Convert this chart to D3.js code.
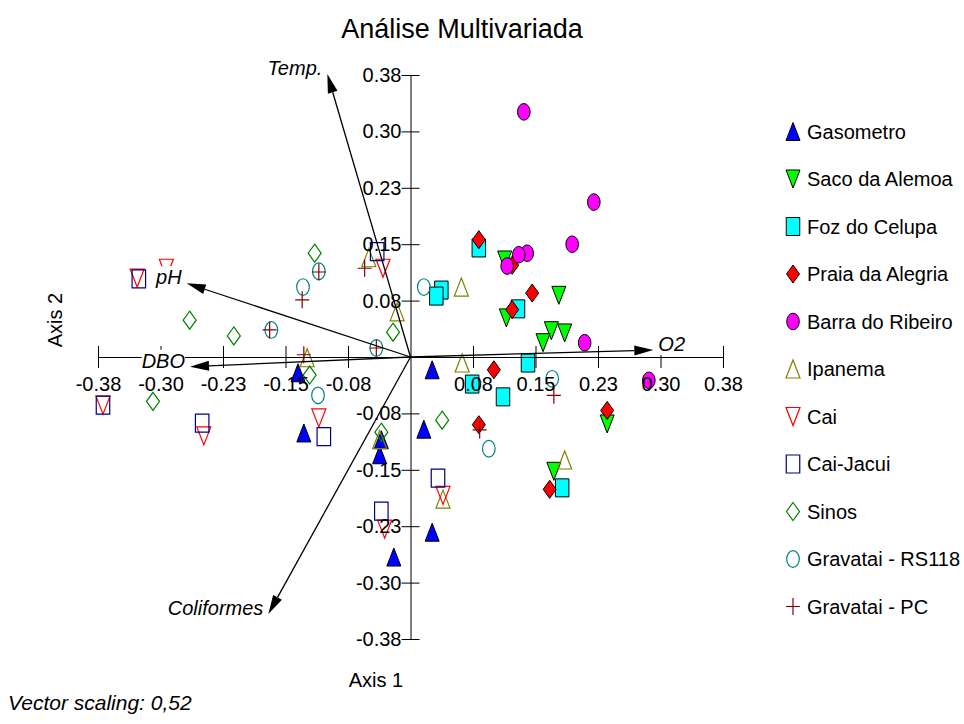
<!DOCTYPE html>
<html>
<head>
<meta charset="utf-8">
<script src="https://cdnjs.cloudflare.com/ajax/libs/d3/7.8.5/d3.min.js"></script>
<style>
body { margin: 0; background: #fff; }
text { font-family: "Liberation Sans", Arial, sans-serif; }
</style>
</head>
<body>
<div id="chart"></div>
<script>
// site scores [axis 1, axis 2]
var gasometro = [[0.026,-0.017],[-0.135,-0.021],[-0.128,-0.101],[-0.035,-0.110],[-0.037,-0.130],[0.016,-0.096],[0.026,-0.233],[-0.020,-0.266]];
var sacoAlemoa = [[0.113,0.129],[0.178,0.082],[0.115,0.052],[0.169,0.035],[0.185,0.032],[0.159,0.019],[0.236,-0.089],[0.172,-0.152]];
var fozCelupa = [[0.082,0.145],[0.037,0.089],[0.031,0.081],[0.129,0.064],[0.141,-0.008],[0.074,-0.036],[0.111,-0.053],[0.182,-0.174]];
var praiaAlegria = [[0.082,0.156],[0.122,0.122],[0.146,0.085],[0.122,0.063],[0.100,-0.017],[0.082,-0.090],[0.236,-0.071],[0.167,-0.176]];
var barraRibeiro = [[0.136,0.326],[0.220,0.206],[0.194,0.150],[0.140,0.138],[0.130,0.136],[0.116,0.121],[0.209,0.019],[0.286,-0.031]];
var ipanema = [[0.061,0.093],[-0.016,0.060],[-0.050,0.132],[0.062,-0.008],[-0.124,-0.001],[-0.037,-0.110],[0.039,-0.189],[0.185,-0.137]];
var cai = [[-0.293,0.118],[-0.328,0.105],[-0.033,0.118],[-0.369,-0.064],[-0.248,-0.105],[-0.110,-0.081],[0.039,-0.184],[-0.031,-0.229]];
var caiJacui = [[-0.326,0.104],[-0.040,0.140],[-0.369,-0.064],[-0.250,-0.088],[-0.104,-0.106],[0.033,-0.161],[-0.035,-0.205]];
var sinos = [[-0.115,0.138],[-0.265,0.049],[-0.212,0.028],[-0.021,0.033],[-0.121,-0.024],[-0.309,-0.059],[0.038,-0.084],[-0.035,-0.100]];
var gravataiRS118 = [[-0.129,0.093],[-0.110,0.114],[-0.167,0.036],[-0.041,0.012],[0.016,0.093],[-0.111,-0.051],[0.170,-0.029],[0.094,-0.122]];
var gravataiPC = [[-0.110,0.113],[-0.130,0.076],[-0.169,0.036],[-0.055,0.118],[-0.041,0.012],[-0.128,0.003],[0.172,-0.051],[0.083,-0.097]];

var seriesNames = ["Gasometro", "Saco da Alemoa", "Foz do Celupa", "Praia da Alegria", "Barra do Ribeiro",
  "Ipanema", "Cai", "Cai-Jacui", "Sinos", "Gravatai - RS118", "Gravatai - PC"];
var seriesData = [gasometro, sacoAlemoa, fozCelupa, praiaAlegria, barraRibeiro,
  ipanema, cai, caiJacui, sinos, gravataiRS118, gravataiPC];

// biplot vectors
var vectorNames = ["Temp.", "pH", "DBO", "O2", "Coliformes"];
var vectorX = [-0.0998, -0.2686, -0.2646, 0.2914, -0.1706];
var vectorY = [0.3763, 0.098, -0.0129, 0.0093, -0.3418];

var tickValues = [-0.375, -0.3, -0.225, -0.15, -0.075, 0.075, 0.15, 0.225, 0.3, 0.375];
var tickLabels = ["-0.38", "-0.30", "-0.23", "-0.15", "-0.08", "0.08", "0.15", "0.23", "0.30", "0.38"];

// marker styles, same order as seriesNames
var styles = [
  {shape: "up", color: "#0000ff", filled: true},
  {shape: "down", color: "#00ff00", filled: true},
  {shape: "square", color: "#00ffff", filled: true},
  {shape: "diamond", color: "#ff0000", filled: true},
  {shape: "ellipse", color: "#ff00ff", filled: true},
  {shape: "up", color: "#808000", filled: false},
  {shape: "down", color: "#ff0000", filled: false},
  {shape: "square", color: "#000080", filled: false},
  {shape: "diamond", color: "#008000", filled: false},
  {shape: "ellipse", color: "#008080", filled: false},
  {shape: "plus", color: "#800000", filled: false}
];

var svg = d3.select("#chart").append("svg")
  .attr("width", 964)
  .attr("height", 724);

var x = d3.scaleLinear().domain([-0.375, 0.375]).range([98, 723]);
var y = d3.scaleLinear().domain([-0.375, 0.375]).range([639, 75]);

function shapePath(shape) {
  if (shape == "up") return "M0,-9L7,9L-7,9Z";
  if (shape == "down") return "M-7,-9L7,-9L0,9Z";
  if (shape == "square") return "M-6.75,-9H6.75V9H-6.75Z";
  if (shape == "diamond") return "M0,-9L6.5,0L0,9L-6.5,0Z";
  if (shape == "plus") return "M-7,0H7M0,-8.5V8.5";
}

function drawMarker(g, st) {
  var m;
  if (st.shape == "ellipse") {
    m = g.append("ellipse").attr("rx", 6.3).attr("ry", 8.3);
  } else {
    m = g.append("path").attr("d", shapePath(st.shape));
  }
  if (st.filled) {
    m.attr("fill", st.color).attr("stroke", "#000").attr("stroke-width", 1);
  } else {
    m.attr("fill", "none").attr("stroke", st.color).attr("stroke-width", 1.2);
  }
}

// points
var pts = svg.append("g");
seriesData.forEach(function(data, i) {
  data.forEach(function(d) {
    var g = pts.append("g").attr("transform", "translate(" + x(d[0]) + "," + y(d[1]) + ")");
    drawMarker(g, styles[i]);
  });
});

// axes crossing at the origin
var xAxis = d3.axisBottom(x)
  .tickValues(tickValues)
  .tickFormat(function(d, i) { return tickLabels[i]; })
  .tickSize(11)
  .tickSizeOuter(0);
var gx = svg.append("g")
  .attr("transform", "translate(0," + y(0) + ")")
  .call(xAxis);
gx.selectAll(".tick line").attr("y1", -11).attr("y2", 11);
gx.selectAll(".tick text").attr("y", 34).attr("dy", 0);

var yAxis = d3.axisLeft(y)
  .tickValues(tickValues)
  .tickFormat(function(d, i) { return tickLabels[i]; })
  .tickSize(9)
  .tickPadding(0)
  .tickSizeOuter(0);
var gy = svg.append("g")
  .attr("transform", "translate(" + x(0) + ",0)")
  .call(yAxis);
gy.selectAll(".tick line").attr("x1", 9);

[gx, gy].forEach(function(g) {
  g.attr("font-size", 20).attr("font-family", "Liberation Sans, Arial, sans-serif");
});

// vectors
var vec = svg.append("g");
var x0 = x(0), y0 = y(0);
vectorNames.forEach(function(name, i) {
  var tx = x(vectorX[i]), ty = y(vectorY[i]);
  var a = Math.atan2(ty - y0, tx - x0);
  var hl = 19, hw = 5;
  var bx = tx - hl * Math.cos(a), by = ty - hl * Math.sin(a);
  vec.append("line")
    .attr("x1", x0).attr("y1", y0)
    .attr("x2", bx).attr("y2", by)
    .attr("stroke", "#000").attr("stroke-width", 1.3);
  vec.append("path")
    .attr("d", "M" + tx + "," + ty +
      "L" + (bx + hw * Math.sin(a)) + "," + (by - hw * Math.cos(a)) +
      "L" + (bx - hw * Math.sin(a)) + "," + (by + hw * Math.cos(a)) + "Z")
    .attr("fill", "#000");

  // label sits on a white box
  var lg = vec.append("g");
  var t = lg.append("text")
    .attr("x", vectorX[i] < 0 ? tx - 5 : tx + 5)
    .attr("y", ty + 1)
    .attr("text-anchor", vectorX[i] < 0 ? "end" : "start")
    .attr("font-size", 20)
    .attr("font-style", "italic")
    .text(name);
  var bb = t.node().getBBox();
  lg.insert("rect", "text")
    .attr("x", bb.x).attr("y", bb.y)
    .attr("width", bb.width).attr("height", bb.height)
    .attr("fill", "#fff");
});

// legend
var leg = svg.append("g");
seriesNames.forEach(function(name, i) {
  var ly = 131.5 + i * 47.5;
  var g = leg.append("g").attr("transform", "translate(793," + ly + ")");
  drawMarker(g, styles[i]);
  leg.append("text")
    .attr("x", 807)
    .attr("y", ly + 7)
    .attr("font-size", 20)
    .text(name);
});

// titles
svg.append("text")
  .attr("x", 462)
  .attr("y", 38)
  .attr("text-anchor", "middle")
  .attr("font-size", 27)
  .text("Análise Multivariada");

svg.append("text")
  .attr("transform", "translate(62,320) rotate(-90)")
  .attr("text-anchor", "middle")
  .attr("font-size", 20)
  .text("Axis 2");

svg.append("text")
  .attr("x", 376)
  .attr("y", 687)
  .attr("text-anchor", "middle")
  .attr("font-size", 20)
  .text("Axis 1");

svg.append("text")
  .attr("x", 8)
  .attr("y", 710)
  .attr("font-size", 21)
  .attr("font-style", "italic")
  .text("Vector scaling: 0,52");
</script>
</body>
</html>
